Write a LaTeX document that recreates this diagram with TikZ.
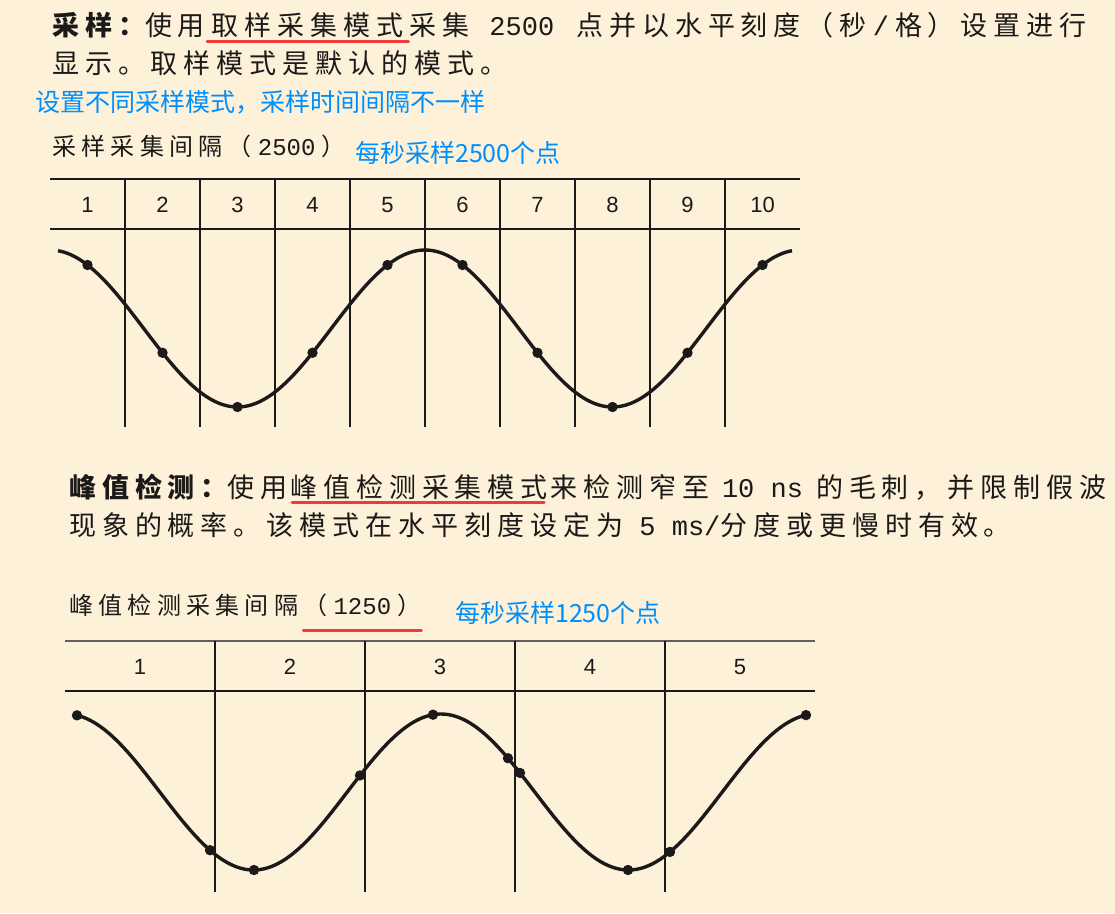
\documentclass[tikz,border=0pt]{standalone}
\usepackage{fontspec}
\usepackage{xcolor}
\usetikzlibrary{positioning}
\newfontfamily\cjk[LetterSpace=22]{Noto Sans CJK SC}
\newfontfamily\cjknote{Noto Sans CJK SC}
\newfontfamily\lat{Liberation Mono}
\newfontfamily\arialish{Liberation Sans}
\definecolor{bgcream}{RGB}{253,241,218}
\definecolor{inkdark}{RGB}{28,26,24}
\definecolor{noteblue}{RGB}{0,142,250}
\definecolor{markred}{RGB}{240,58,58}

\begin{document}
\begin{tikzpicture}[
      x=1pt, y=-1pt,
      node distance=6pt,
      body/.style={inner sep=0pt, anchor=base west, text=inkdark, font=\cjk\fontsize{27}{32}\selectfont},
      gaplabel/.style={inner sep=0pt, anchor=base west, text=inkdark, font=\cjk\fontsize{24}{28}\selectfont},
      note/.style={inner sep=0pt, anchor=base west, text=noteblue, font=\cjknote\fontsize{25}{30}\selectfont},
      colnum/.style={inner sep=0pt, text=inkdark, font=\arialish\fontsize{22}{24}\selectfont},
      grid/.style={line width=2.1pt, draw=inkdark},
      wave/.style={line width=3.4pt, draw=inkdark, line join=round},
      uline/.style={line width=3pt, draw=markred, line cap=round}
    ]
      \fill[bgcream] (0,0) rectangle (1115,913);
      \useasboundingbox (0,0) rectangle (1115,913);

      \node[body] (l1a) at (52,35) {{\bfseries 采样：}使用};
      \node[body, base right=of l1a] (l1b) {取样采集模式};
      \node[body, base right=of l1b] (l1c) {采集{\lat\hspace{20pt}2500\hspace{22pt}}点并以水平刻度（秒{\lat\hspace{6pt}/\hspace{6pt}}格）设置进行};
      \node[body] (l2) at (52,73) {显示。取样模式是默认的模式。};
      \node[note] (n1) at (35,111) {设置不同采样模式，采样时间间隔不一样};
      \node[gaplabel] (g1) at (52,155) {采样采集间隔（{\lat\hspace{6pt}2500\hspace{6pt}}）};
      \node[note] (n2) at (355,162) {每秒采样2500个点};
      \draw[uline] ([xshift=-4pt,yshift=-6pt]l1b.base west) -- ([xshift=5pt,yshift=-6pt]l1b.base east);

      \draw[grid] (50,179) -- (800,179);
      \draw[grid] (50,229) -- (800,229);
      \foreach \i in {1,...,9}
        \draw[grid] ({50+75*\i},179) -- ({50+75*\i},427);
      \foreach \i in {1,...,10}
        \node[colnum] (ta\i) at ({12.5+75*\i},205) {\i};
      \draw[wave, domain=58:792, samples=160, smooth] plot (\x, {328.5-78.5*cos(0.96*(\x-425))});
      \foreach \k in {0,...,9}
        \fill[inkdark] ({87.5+75*\k}, {328.5-78.5*cos(0.96*(87.5+75*\k-425))}) circle (5.2pt);

      \node[body] (l3a) at (69,497) {{\bfseries 峰值检测：}使用};
      \node[body, base right=2pt of l3a] (l3b) {峰值检测采集模式};
      \node[body, base right=2pt of l3b] (l3c) {来检测窄至{\lat\hspace{13pt}10 ns\hspace{13pt}}的毛刺，并限制假波};
      \node[body] (l4) at (69,535) {现象的概率。该模式在水平刻度设定为{\lat\ 5 ms/}分度或更慢时有效。};
      \node[gaplabel] (g2a) at (69,614) {峰值检测采集间隔};
      \node[gaplabel, base right=5pt of g2a] (g2b) {（{\lat\hspace{6pt}1250\hspace{6pt}}）};
      \node[note] (n3) at (455,622) {每秒采样1250个点};
      \draw[uline] ([xshift=2pt,yshift=-5pt]l3b.base west) -- ([xshift=-4pt,yshift=-5pt]l3b.base east);
      \draw[uline] ([yshift=-16pt]g2b.base west) -- ([yshift=-16pt]g2b.base east);

      \draw[grid, line width=1.3pt, draw=inkdark!70] (65,641) -- (815,641);
      \draw[grid] (65,691) -- (815,691);
      \foreach \i in {1,...,4}
        \draw[grid] ({65+150*\i},641) -- ({65+150*\i},892);
      \foreach \i in {1,...,5}
        \node[colnum] (tb\i) at ({-10+150*\i},667) {\i};
      \draw[wave, domain=77:806, samples=160, smooth] plot (\x, {792-78*cos(0.96*(\x-66))});
      \foreach \p in {77,210,254,360,433,508,520,628,670,806}
        \fill[inkdark] (\p, {792-78*cos(0.96*(\p-66))}) circle (5.2pt);
    \end{tikzpicture}
\end{document}
